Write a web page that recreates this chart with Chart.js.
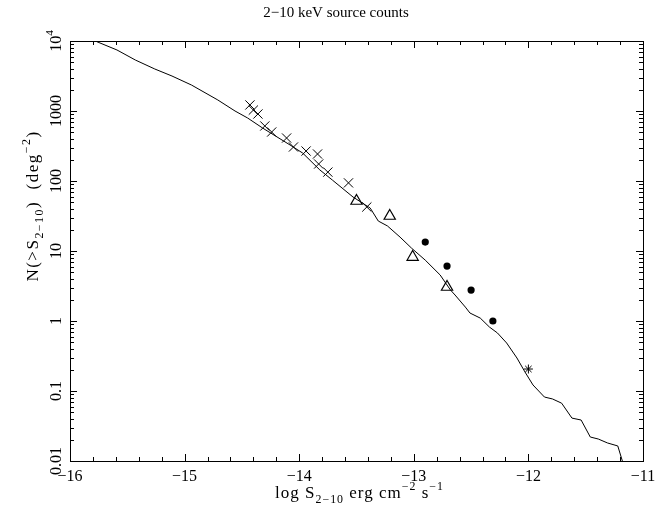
<html>
<head>
  <title></title>
  <style>
    body { margin: 0; background: #fff; }
  </style>
</head>
<body>
  <div>
  <canvas id="myChart" width="672" height="506"></canvas>
</div>

<script src="https://cdn.jsdelivr.net/npm/chart.js"></script>

<script>
  // model curve, log S vs N(>S)
  const lineX = [-15.78, -15.59, -15.43, -15.26, -15.11, -14.94, -14.71, -14.56, -14.45, -14.32, -14.08, -13.97, -13.82, -13.71, -13.53, -13.38, -13.31, -13.23, -13.12, -13.02, -12.90, -12.77, -12.68, -12.64, -12.55, -12.51, -12.42, -12.34, -12.27, -12.19, -12.10, -12.03, -11.96, -11.86, -11.79, -11.71, -11.62, -11.54, -11.46, -11.39, -11.31, -11.22, -11.18]
  const lineY = [10000, 7440, 5350, 3980, 3160, 2350, 1436, 1000, 794, 572, 327, 251, 144, 103, 59, 41, 26.8, 22.8, 15.8, 11.0, 7.4, 4.54, 2.77, 2.35, 1.58, 1.30, 1.10, 0.82, 0.674, 0.485, 0.296, 0.187, 0.122, 0.082, 0.077, 0.067, 0.041, 0.0385, 0.022, 0.0206, 0.0181, 0.0164, 0.01]

  // data points
  const crossX = [-14.43, -14.40, -14.36, -14.30, -14.24, -14.11, -14.05, -13.94, -13.84, -13.83, -13.75, -13.57, -13.41]
  const crossY = [1220, 1030, 906, 611, 501, 411, 306, 268, 243, 175, 134, 94, 42.5]
  const triX = [-13.50, -13.21, -13.01, -12.71]
  const triY = [51.8, 31.6, 8.2, 3.06]
  const dotX = [-12.90, -12.71, -12.50, -12.31]
  const dotY = [13.4, 6.1, 2.77, 1.0]
  const starX = [-12.00]
  const starY = [0.206]

  // axes
  const xTicks = [-16, -15, -14, -13, -12, -11]
  const yTickValues = [0.01, 0.1, 1, 10, 100, 1000, 10000]
  const yTickLabels = ['0.01', '0.1', '1', '10', '100', '1000', '10^4']

  const FONT = '"Liberation Serif", "DejaVu Serif", serif'
  const pts = (xs, ys) => xs.map((x, i) => ({x: x, y: ys[i]}))
  const minus = s => String(s).replace(/-/g, '\u2212')

  // draw text with sub/superscripts, centered at (x, y), optionally rotated
  function richText(c, parts, x, y, size, rot, spacing) {
    c.save()
    c.translate(x, y)
    c.rotate(rot || 0)
    c.textBaseline = 'alphabetic'
    c.textAlign = 'left'
    c.letterSpacing = (spacing || 0) + 'px'
    let w = 0
    parts.forEach(p => {
      const s = p.s ? size * 0.7 : size
      c.font = s + 'px ' + FONT
      p.w = c.measureText(p.t).width
      p.size = s
      w += p.w
    })
    let cx = -w / 2
    parts.forEach(p => {
      c.font = p.size + 'px ' + FONT
      const dy = p.s === 'sub' ? size * 0.3 : (p.s === 'sup' ? -size * 0.45 : 0)
      c.fillText(p.t, cx, size * 0.35 + dy)
      cx += p.w
    })
    c.restore()
  }

  const frame = {
    id: 'frame',
    afterDraw(chart) {
      const c = chart.ctx, a = chart.chartArea
      const xs = chart.scales.x, ys = chart.scales.y
      c.save()
      c.strokeStyle = '#000'
      c.lineWidth = 1
      c.strokeRect(a.left + 0.5, a.top + 0.5, a.right - a.left, a.bottom - a.top)
      c.beginPath()
      for (let i = 0; i <= 25; i++) {
        const v = -16 + i * 0.2
        const px = Math.round(xs.getPixelForValue(v)) + 0.5
        const len = i % 5 === 0 ? 7 : 4
        c.moveTo(px, a.bottom); c.lineTo(px, a.bottom - len)
        c.moveTo(px, a.top); c.lineTo(px, a.top + len)
      }
      for (let d = -2; d <= 4; d++) {
        for (let k = 1; k <= 9; k++) {
          if (d === 4 && k > 1) break
          const py = Math.round(ys.getPixelForValue(k * Math.pow(10, d))) + 0.5
          const len = k === 1 ? 7 : 4
          c.moveTo(a.left, py); c.lineTo(a.left + len, py)
          c.moveTo(a.right, py); c.lineTo(a.right - len, py)
        }
      }
      c.stroke()
      c.fillStyle = '#000'
      yTickValues.forEach((v, i) => {
        const py = ys.getPixelForValue(v)
        const lab = yTickLabels[i]
        const parts = lab.indexOf('^') > 0
          ? [{t: lab.split('^')[0]}, {t: lab.split('^')[1], s: 'sup'}]
          : [{t: lab}]
        richText(c, parts, a.left - 15, py, 16, -Math.PI / 2)
      })
      richText(c, [{t: 'log S'}, {t: '2\u221210', s: 'sub'}, {t: ' erg cm'}, {t: '\u22122', s: 'sup'}, {t: ' s'}, {t: '\u22121', s: 'sup'}],
        (a.left + a.right) / 2 + 3, 492, 17, 0, 1)
      richText(c, [{t: 'N(>S'}, {t: '2\u221210', s: 'sub'}, {t: ')  (deg'}, {t: '\u22122', s: 'sup'}, {t: ')'}],
        32, 206, 17, -Math.PI / 2, 1.5)
      c.restore()
    }
  }

  const ctx = document.getElementById('myChart')
  new Chart(ctx, {
    data: {
      datasets: [
        {type: 'line', data: pts(lineX, lineY), borderColor: '#000', borderWidth: 1, pointRadius: 0, tension: 0, fill: false},
        {type: 'scatter', data: pts(crossX, crossY), pointStyle: 'crossRot', radius: 6.5, borderColor: '#000', borderWidth: 1},
        {type: 'scatter', data: pts(triX, triY), pointStyle: 'triangle', radius: 6.5, borderColor: '#000', backgroundColor: 'rgba(0,0,0,0)', borderWidth: 1.2},
        {type: 'scatter', data: pts(dotX, dotY), pointStyle: 'circle', radius: 3.6, borderColor: '#000', backgroundColor: '#000', borderWidth: 0},
        {type: 'scatter', data: pts(starX, starY), pointStyle: 'star', radius: 4.5, borderColor: '#000', borderWidth: 1}
      ]
    },
    options: {
      responsive: false,
      animation: false,
      plugins: {
        legend: {display: false},
        tooltip: {enabled: false},
        title: {
          display: true,
          text: '2\u221210 keV source counts',
          color: '#000',
          font: {family: FONT, size: 15, weight: 'normal'},
          padding: {top: 4, bottom: 19}
        }
      },
      scales: {
        x: {
          type: 'linear',
          min: -16,
          max: -11,
          afterBuildTicks: s => { s.ticks = xTicks.map(v => ({value: v})) },
          afterFit: s => { s.height = 45 },
          grid: {display: false, drawTicks: false},
          border: {display: false},
          ticks: {color: '#000', font: {family: FONT, size: 16}, padding: 6, callback: v => minus(v), maxRotation: 0}
        },
        y: {
          type: 'logarithmic',
          min: 0.01,
          max: 10000,
          afterFit: s => { s.width = 70 },
          grid: {display: false, drawTicks: false},
          border: {display: false},
          ticks: {display: false}
        },
        // empty right margin so the title stays centred on the page
        y2: {
          position: 'right',
          afterFit: s => { s.width = 29 },
          grid: {display: false, drawTicks: false},
          border: {display: false},
          ticks: {display: false}
        }
      }
    },
    plugins: [frame]
  });
</script>

</body>
</html>
